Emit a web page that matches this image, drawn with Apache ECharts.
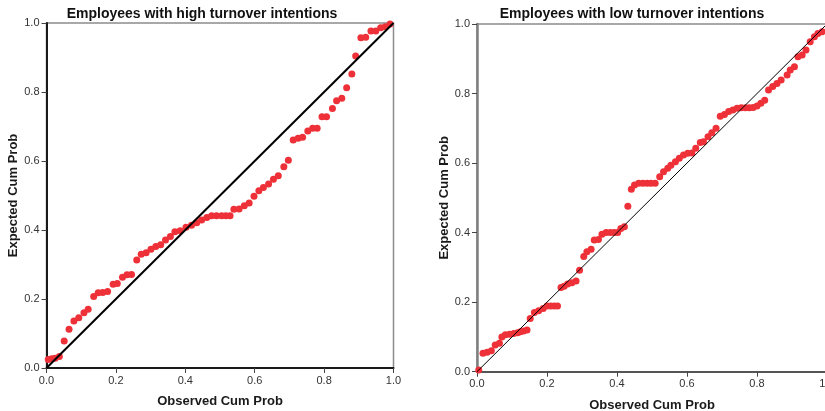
<!DOCTYPE html>
<html><head><meta charset="utf-8">
<script src="https://cdn.jsdelivr.net/npm/echarts@6/dist/echarts.min.js"></script>
<style>html,body{margin:0;padding:0;background:#fff}#c{width:825px;height:411px}</style>
</head><body><div id="c"></div>
<script>
const titles = ["Employees with high turnover intentions", "Employees with low turnover intentions"];
const xName = "Observed Cum Prob";
const yName = "Expected Cum Prob";
const ticks = [0, 0.2, 0.4, 0.6, 0.8, 1.0];

const highObs = [0.005,0.015,0.025,0.037,0.051,0.065,0.079,0.093,0.108,0.12,0.136,0.149,0.162,0.176,0.192,0.204,0.219,0.232,0.245,0.26,0.273,0.287,0.301,0.315,0.329,0.343,0.357,0.37,0.385,0.402,0.418,0.433,0.447,0.462,0.476,0.49,0.505,0.517,0.529,0.54,0.555,0.57,0.584,0.598,0.612,0.625,0.64,0.654,0.668,0.684,0.697,0.711,0.725,0.738,0.753,0.767,0.78,0.794,0.807,0.824,0.836,0.851,0.865,0.88,0.891,0.906,0.92,0.935,0.949,0.963,0.976,0.99];
const highExp = [0.025,0.027,0.028,0.033,0.078,0.112,0.136,0.146,0.16,0.17,0.207,0.218,0.219,0.222,0.243,0.245,0.263,0.27,0.271,0.313,0.33,0.334,0.344,0.352,0.357,0.371,0.381,0.395,0.398,0.408,0.414,0.421,0.429,0.436,0.441,0.441,0.441,0.441,0.441,0.46,0.461,0.47,0.478,0.498,0.514,0.523,0.533,0.547,0.557,0.583,0.602,0.661,0.666,0.669,0.687,0.695,0.695,0.728,0.728,0.752,0.775,0.782,0.812,0.852,0.904,0.957,0.959,0.977,0.977,0.986,0.989,0.997];

const lowObs = [0.005,0.017,0.029,0.041,0.052,0.064,0.071,0.081,0.093,0.105,0.116,0.124,0.133,0.143,0.152,0.164,0.176,0.189,0.2,0.211,0.221,0.23,0.24,0.249,0.259,0.271,0.283,0.293,0.305,0.314,0.326,0.335,0.347,0.357,0.369,0.381,0.392,0.402,0.411,0.421,0.431,0.441,0.45,0.462,0.474,0.486,0.497,0.509,0.522,0.533,0.545,0.554,0.567,0.578,0.59,0.602,0.614,0.625,0.638,0.647,0.66,0.671,0.683,0.695,0.707,0.719,0.731,0.743,0.755,0.767,0.778,0.789,0.8,0.811,0.822,0.833,0.845,0.857,0.869,0.886,0.895,0.907,0.917,0.929,0.94,0.952,0.964,0.974,0.986];
const lowExp = [0.005,0.053,0.056,0.06,0.077,0.082,0.1,0.106,0.108,0.11,0.112,0.115,0.117,0.12,0.153,0.17,0.175,0.182,0.189,0.189,0.189,0.189,0.242,0.246,0.252,0.256,0.261,0.292,0.331,0.345,0.352,0.379,0.38,0.395,0.4,0.4,0.4,0.4,0.412,0.417,0.476,0.525,0.537,0.542,0.542,0.542,0.542,0.542,0.561,0.575,0.585,0.594,0.604,0.614,0.623,0.628,0.629,0.643,0.659,0.661,0.676,0.687,0.7,0.735,0.74,0.748,0.753,0.758,0.759,0.759,0.759,0.76,0.764,0.772,0.781,0.81,0.82,0.829,0.839,0.853,0.868,0.877,0.906,0.911,0.925,0.949,0.963,0.973,0.978];

const FONT = 'Liberation Sans, Arial, sans-serif';
const red = '#ee3138';

function pts(xs, ys){ return xs.map((x,i)=>[x, ys[i]]); }

const grids = [
  {left: 46.5, top: 23, width: 347, height: 345, show: true, borderColor: '#8c8c8c', borderWidth: 1.5, backgroundColor: '#fff', outerBoundsMode: 'none', containLabel: false},
  {left: 477, top: 24, width: 350, height: 347.7, show: true, borderColor: '#8c8c8c', borderWidth: 1.5, backgroundColor: '#fff', outerBoundsMode: 'none', containLabel: false}
];
const axisColors = ['#1a1a1a', '#808080'];
const yGaps = [24, 25];

function xAxis(i){
  return {gridIndex: i, type: 'value', min: 0, max: 1, interval: 0.2,
    name: xName, nameLocation: 'middle', nameGap: 27,
    nameTextStyle: {fontFamily: FONT, fontWeight: 'bold', fontSize: 13, color: '#1a1a1a'},
    axisLine: {show: true, lineStyle: {color: i===0 ? '#1a1a1a' : '#555', width: 2}},
    axisTick: {show: true, inside: false, length: 5, lineStyle: {color: '#444', width: 1}},
    axisLabel: {fontFamily: FONT, fontSize: 11, color: '#333', margin: 7, formatter: v => v.toFixed(1)},
    splitLine: {show: false}};
}
function yAxis(i){
  return {gridIndex: i, type: 'value', min: 0, max: 1, interval: 0.2,
    name: yName, nameLocation: 'middle', nameGap: yGaps[i], nameRotate: 90,
    nameTextStyle: {fontFamily: FONT, fontWeight: 'bold', fontSize: 13, color: '#1a1a1a'},
    axisLine: {show: true, lineStyle: {color: axisColors[i], width: i===0 ? 2 : 2.5}},
    axisTick: {show: true, inside: false, length: 5, lineStyle: {color: '#444', width: 1}},
    axisLabel: {fontFamily: FONT, fontSize: 11, color: '#333', margin: 7, formatter: v => v.toFixed(1)},
    splitLine: {show: false}};
}

const option = {
  animation: false,
  backgroundColor: '#fff',
  title: [
    {text: titles[0], left: 197, top: 2, textAlign: 'center', textStyle: {fontFamily: FONT, fontWeight: 'bold', fontSize: 14, color: '#111'}},
    {text: titles[1], left: 627, top: 2, textAlign: 'center', textStyle: {fontFamily: FONT, fontWeight: 'bold', fontSize: 14, color: '#111'}}
  ],
  grid: grids,
  xAxis: [xAxis(0), xAxis(1)],
  yAxis: [yAxis(0), yAxis(1)],
  series: [
    {type: 'line', xAxisIndex: 0, yAxisIndex: 0, data: [[0,0],[1,1]], symbol: 'none', lineStyle: {color: '#000', width: 2}, z: 3},
    {type: 'scatter', xAxisIndex: 0, yAxisIndex: 0, data: pts(highObs, highExp), symbolSize: 7, itemStyle: {color: red, opacity: 1}, z: 2},
    {type: 'line', xAxisIndex: 1, yAxisIndex: 1, data: [[0,0],[1,1]], symbol: 'none', lineStyle: {color: '#000', width: 1}, z: 3},
    {type: 'scatter', xAxisIndex: 1, yAxisIndex: 1, data: pts(lowObs, lowExp), symbolSize: 7, itemStyle: {color: red, opacity: 1}, z: 2}
  ]
};
const chart = echarts.init(document.getElementById('c'), null, {renderer: 'canvas'});
chart.setOption(option);
</script></body></html>
